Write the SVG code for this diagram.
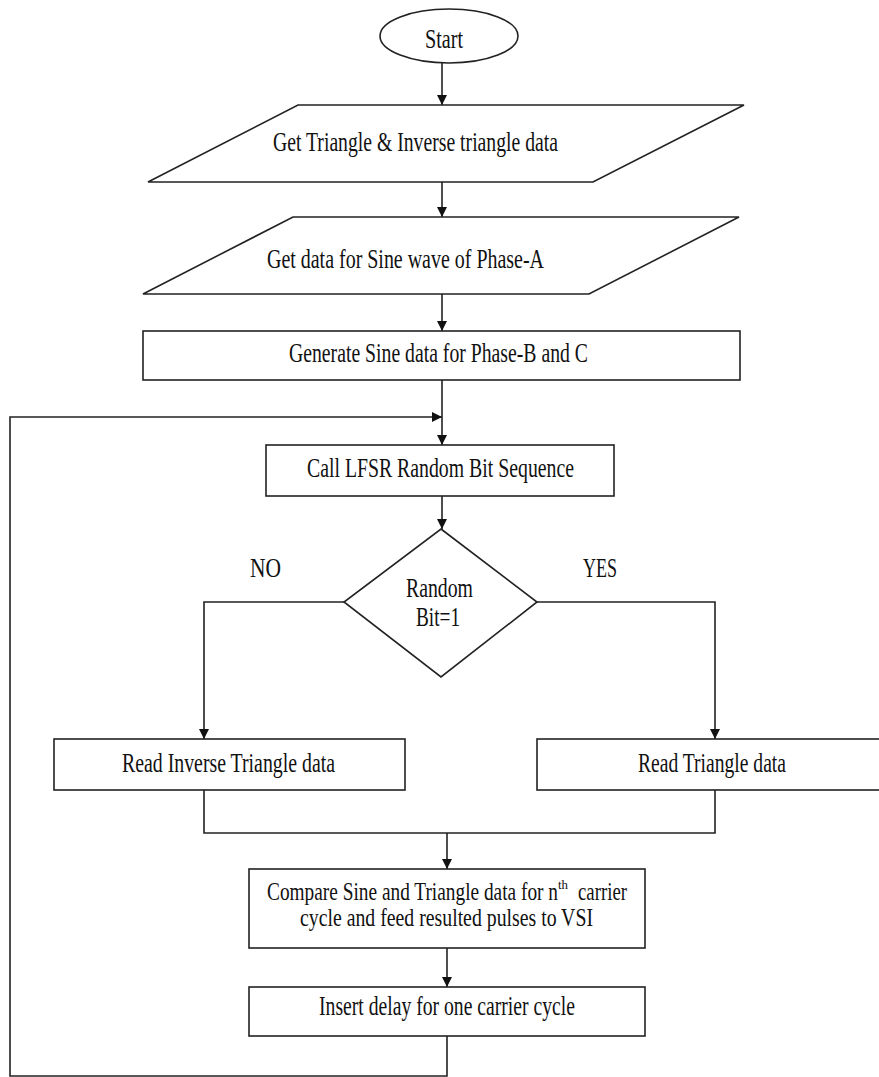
<svg xmlns="http://www.w3.org/2000/svg" width="879" height="1077" viewBox="0 0 879 1077">
<style>
.shape{fill:#fff;stroke:#222;stroke-width:1.6}
.conn{fill:none;stroke:#222;stroke-width:1.6}
.t{font-family:"Liberation Serif","Times New Roman",serif;font-size:28px;fill:#111}
.c{font-size:26px}
.sup{font-family:"Liberation Serif","Times New Roman",serif;font-size:12px;fill:#111}
</style>
<defs>
<marker id="arr" markerUnits="userSpaceOnUse" markerWidth="10" markerHeight="12" refX="10" refY="5" orient="auto">
<path d="M0,0 L10,5 L0,10 z" fill="#111"/>
</marker>
</defs>
<rect width="879" height="1077" fill="#fff"/>
<g id="connectors">
<path class="conn" d="M442,63 V105" marker-end="url(#arr)"/>
<path class="conn" d="M442,182 V217" marker-end="url(#arr)"/>
<path class="conn" d="M442,294 V331" marker-end="url(#arr)"/>
<path class="conn" d="M442,380 V445" marker-end="url(#arr)"/>
<path class="conn" d="M442,496 V529" marker-end="url(#arr)"/>
<path class="conn" d="M344,602 H204 V739" marker-end="url(#arr)"/>
<path class="conn" d="M537,602 H715 V739" marker-end="url(#arr)"/>
<path class="conn" d="M204,790 V833 H715 V790"/>
<path class="conn" d="M447,833 V869" marker-end="url(#arr)"/>
<path class="conn" d="M447,948 V987" marker-end="url(#arr)"/>
<path class="conn" d="M447,1036 V1076 H10 V417 H442" marker-end="url(#arr)"/>
</g>
<g id="start">
<ellipse class="shape" cx="449" cy="36" rx="69" ry="27"/>
<text class="t" x="425" y="48" textLength="38" lengthAdjust="spacingAndGlyphs">Start</text>
</g>
<g id="getTriangle">
<polygon class="shape" points="298,105 744,105 593,182 148,182"/>
<text class="t" x="273" y="151" textLength="285" lengthAdjust="spacingAndGlyphs">Get Triangle &amp; Inverse triangle data</text>
</g>
<g id="getSine">
<polygon class="shape" points="293,217 739,217 589,294 143,294"/>
<text class="t" x="267" y="268" textLength="277" lengthAdjust="spacingAndGlyphs">Get data for Sine wave of Phase-A</text>
</g>
<g id="generate">
<rect class="shape" x="143" y="331" width="597" height="49"/>
<text class="t" x="289" y="362" textLength="299" lengthAdjust="spacingAndGlyphs">Generate Sine data for Phase-B and C</text>
</g>
<g id="lfsr">
<rect class="shape" x="266" y="445" width="348" height="51"/>
<text class="t" x="307" y="477" textLength="267" lengthAdjust="spacingAndGlyphs">Call LFSR Random Bit Sequence</text>
</g>
<g id="decision">
<polygon class="shape" points="441,529 537,602 441,677 344,602"/>
<text class="t" x="406" y="597" textLength="67" lengthAdjust="spacingAndGlyphs">Random</text>
<text class="t" x="416" y="626" textLength="44" lengthAdjust="spacingAndGlyphs">Bit=1</text>
</g>
<g id="labels">
<text class="t" x="250" y="577" textLength="31" lengthAdjust="spacingAndGlyphs">NO</text>
<text class="t" x="583" y="577" textLength="34" lengthAdjust="spacingAndGlyphs">YES</text>
</g>
<g id="readInverse">
<rect class="shape" x="54" y="739" width="351" height="51"/>
<text class="t" x="122" y="772" textLength="213" lengthAdjust="spacingAndGlyphs">Read Inverse Triangle data</text>
</g>
<g id="readTriangle">
<rect class="shape" x="537" y="739" width="350" height="51"/>
<text class="t" x="638" y="772" textLength="148" lengthAdjust="spacingAndGlyphs">Read Triangle data</text>
</g>
<g id="compare">
<rect class="shape" x="249" y="869" width="396" height="79"/>
<text class="t c" x="267" y="900" textLength="291" lengthAdjust="spacingAndGlyphs">Compare Sine and Triangle data for n</text>
<text class="sup" x="558" y="889" textLength="10" lengthAdjust="spacingAndGlyphs">th</text>
<text class="t c" x="578" y="900" textLength="49" lengthAdjust="spacingAndGlyphs">carrier</text>
<text class="t c" x="300" y="926" textLength="293" lengthAdjust="spacingAndGlyphs">cycle and feed resulted pulses to VSI</text>
</g>
<g id="delay">
<rect class="shape" x="249" y="987" width="396" height="49"/>
<text class="t" x="319" y="1015" textLength="256" lengthAdjust="spacingAndGlyphs">Insert delay for one carrier cycle</text>
</g>
</svg>
